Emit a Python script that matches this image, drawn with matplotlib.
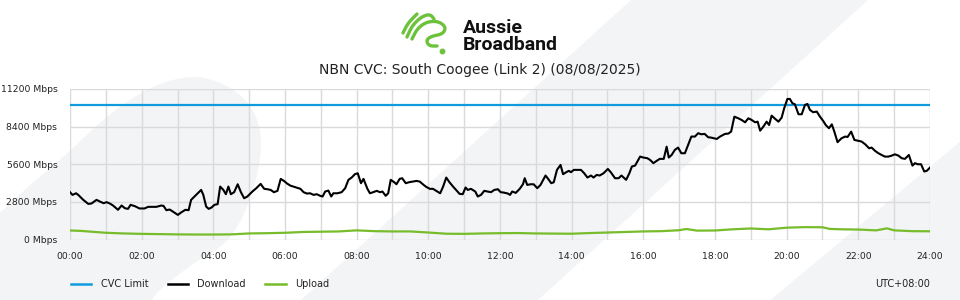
import numpy as np
import matplotlib
matplotlib.use('Agg')
import matplotlib.pyplot as plt
from matplotlib.lines import Line2D
from matplotlib.patches import Polygon

# Dati (ore, Mbps)
cvc_limit = 10000

download_hours = [
    0.00, 0.07, 0.17, 0.23, 0.37, 0.51, 0.60, 0.74, 0.83, 0.94, 1.02, 1.11, 1.20, 1.34, 1.44, 1.53,
    1.62, 1.69, 1.81, 1.94, 2.08, 2.18, 2.31, 2.41, 2.55, 2.61, 2.69, 2.78, 2.87, 3.01, 3.10, 3.22,
    3.31, 3.38, 3.52, 3.66, 3.72, 3.80, 3.87, 3.95, 4.03, 4.12, 4.19, 4.28, 4.35, 4.42, 4.49, 4.58,
    4.68, 4.77, 4.86, 4.95, 5.09, 5.20, 5.32, 5.42, 5.51, 5.60, 5.69, 5.79, 5.88, 5.97,
    6.06, 6.15, 6.29, 6.43, 6.52, 6.61, 6.70, 6.80, 6.89, 6.98, 7.05, 7.12, 7.21, 7.29, 7.35, 7.46,
    7.58, 7.68, 7.77, 7.86, 7.95, 8.03, 8.12, 8.19, 8.30, 8.37, 8.46, 8.56, 8.65, 8.72, 8.81, 8.88,
    8.95, 9.05, 9.11, 9.20, 9.27, 9.37, 9.46, 9.56, 9.67, 9.76, 9.87, 9.94, 10.04, 10.13, 10.22, 10.33,
    10.41, 10.50, 10.59, 10.69, 10.78, 10.87, 10.96, 11.04, 11.10, 11.19, 11.31, 11.38, 11.47, 11.56,
    11.66, 11.75, 11.84, 11.94,
    12.02, 12.11, 12.22, 12.28, 12.34, 12.44, 12.55, 12.64, 12.69, 12.76, 12.85, 12.94, 13.04, 13.13,
    13.27, 13.33, 13.43, 13.50, 13.59, 13.69, 13.76, 13.85, 13.92, 13.98, 14.06, 14.15, 14.26, 14.35,
    14.44, 14.54, 14.61, 14.70, 14.78, 14.89, 15.01, 15.09, 15.21, 15.31, 15.39, 15.52, 15.61, 15.68,
    15.77, 15.91, 16.00, 16.11, 16.19, 16.28, 16.37, 16.46, 16.57, 16.65, 16.71, 16.79, 16.88, 16.97,
    17.06, 17.16, 17.25, 17.34, 17.44, 17.53, 17.62, 17.71, 17.81, 17.90,
    18.05, 18.14, 18.28, 18.37, 18.45, 18.54, 18.65, 18.74, 18.84, 18.93, 19.02, 19.12, 19.19, 19.26,
    19.35, 19.44, 19.51, 19.58, 19.66, 19.77, 19.86, 19.93, 20.02, 20.09, 20.16, 20.23, 20.33, 20.42,
    20.51, 20.58, 20.65, 20.74, 20.84, 20.93, 21.02, 21.09, 21.18, 21.26, 21.33, 21.42, 21.53, 21.63,
    21.70, 21.80, 21.89, 22.00, 22.09, 22.19, 22.30, 22.37, 22.47, 22.56, 22.65, 22.74, 22.84, 22.93,
    23.02, 23.12, 23.21, 23.30, 23.41, 23.51, 23.58, 23.66, 23.75, 23.84, 23.91, 24.00,
]
download_mbps = [
    3520, 3320, 3440, 3320, 2950, 2650, 2680, 2950, 2830, 2700, 2780, 2680, 2530, 2210, 2530, 2330,
    2280, 2580, 2480, 2310, 2310, 2430, 2430, 2430, 2530, 2500, 2180, 2230, 2080, 1830, 2010, 2210,
    2180, 2950, 3320, 3690, 3320, 2450, 2280, 2380, 2580, 2630, 3940, 3690, 3370, 3940, 3370, 3520,
    4110, 3520, 3070, 3200, 3570, 3820, 4140, 3770, 3740, 3690, 3520, 3620, 4510, 4360,
    4160, 4010, 3890, 3770, 3520, 3420, 3440, 3320, 3370, 3250, 3200, 3570, 3640, 3200, 3440, 3440,
    3520, 3820, 4440, 4610, 4860, 4930, 4190, 4510, 3770, 3440, 3520, 3620, 3520, 3570, 3250, 3440,
    4440, 4260, 4110, 4510, 4560, 4190, 4260, 4310, 4360, 4310, 4060, 3920, 3770, 3770, 3620, 3440,
    3920, 4610, 4260, 3940, 3670, 3400, 3370, 3870, 3690, 3770, 3570, 3200, 3320, 3620,
    3570, 3520, 3690, 3740,
    3520, 3490, 3420, 3320, 3570, 3470, 3770, 4110, 4560, 4060, 4110, 4110, 3820, 4060,
    4760, 4560, 4190, 4260, 5180, 5550, 4860, 5010, 5110, 5010, 5180, 5180, 5180, 4930,
    4610, 4760, 4610, 4810, 4760, 4930, 5250, 5010, 4560, 4560, 4760, 4440, 4930, 5430,
    5500, 6170, 6100, 6050, 5920, 5680, 5850, 6000, 6000, 6910, 6100, 6290, 6670, 6840,
    6420, 6420, 7040, 7660, 7660, 7910, 7830, 7860, 7610, 7580,
    7480, 7660, 7860, 7880, 8030, 9140, 9020, 8900, 8720, 9020, 8900, 8720, 8770, 8100,
    8400, 8770, 8520, 9220, 9020, 8770, 9070, 9760, 10460, 10460, 10140, 10060, 9320, 9320,
    10010, 10090, 9640, 9470, 9520, 9140, 8820, 8520, 8280, 8570, 8030, 7240, 7530, 7660,
    7630, 8030, 7410, 7340, 7290, 7090, 6790, 6840, 6590, 6420, 6290, 6170, 6170, 6240,
    6340, 6240, 6050, 6000, 6290, 5500, 5680, 5600, 5600, 5060, 5110, 5350,
]

upload_hours = [
    0.0, 0.3, 0.5, 1.0, 1.5, 2.0, 2.5, 3.0, 3.5, 4.0, 4.5, 5.0, 5.5, 6.0, 6.5, 7.0, 7.5, 8.0, 8.5,
    9.0, 9.5, 10.0, 10.5, 11.0, 11.5, 12.0, 12.5, 13.0, 13.5, 14.0, 14.5, 15.0, 15.5, 16.0, 16.5,
    17.0, 17.2, 17.5, 18.0, 18.5, 19.0, 19.5, 20.0, 20.5, 21.0, 21.2, 21.5, 22.0, 22.5, 22.8, 23.0,
    23.5, 24.0,
]
upload_mbps = [
    670, 640, 600, 500, 450, 420, 400, 380, 370, 370, 380, 450, 470, 500, 560, 580, 600, 680, 620,
    600, 600, 520, 430, 420, 450, 470, 480, 450, 440, 430, 480, 520, 560, 600, 620,
    690, 780, 660, 670, 760, 820, 760, 880, 920, 910, 790, 760, 740, 680, 830, 680,
    620, 610,
]

y_ticks = [0, 2800, 5600, 8400, 11200]
x_ticks = list(range(0, 25, 2))

col_cvc = '#0f9bdc'
col_down = '#000000'
col_up = '#77bc2b'
col_bg = '#f3f4f6'
col_grid = '#dadada'


def chaikin(points, n=4, closed=False):
    # smussa un contorno disegnato a mano
    pts = np.array(points, dtype=float)
    for _ in range(n):
        if closed:
            p0, p1 = pts, np.roll(pts, -1, axis=0)
        else:
            p0, p1 = pts[:-1], pts[1:]
        q = 0.75 * p0 + 0.25 * p1
        r = 0.25 * p0 + 0.75 * p1
        new = np.empty((2 * len(q), 2))
        new[0::2] = q
        new[1::2] = r
        if not closed:
            new = np.vstack([pts[:1], new, pts[-1:]])
        pts = new
    return pts


fig = plt.figure(figsize=(9.6, 3.0), dpi=100, facecolor='white')

# Sfondo decorativo (coordinate in pixel)
bg = fig.add_axes([0, 0, 1, 1], zorder=0)
bg.set_xlim(0, 960)
bg.set_ylim(300, 0)
bg.axis('off')

leaf = [(-20, 300), (-20, 230), (0, 213), (30, 185), (66, 155), (100, 122), (130, 99), (160, 83),
        (190, 76), (212, 79), (235, 90), (252, 107), (261, 130), (261, 155), (255, 185), (243, 218),
        (225, 245), (195, 262), (165, 285), (150, 300), (150, 320), (-20, 320)]
bg.add_patch(Polygon(chaikin(leaf, 4, closed=True), closed=True, facecolor=col_bg, edgecolor='none'))
bg.add_patch(Polygon([(631, 0), (868, 0), (538, 300), (301, 300)], closed=True,
                     facecolor=col_bg, edgecolor='none'))
bg.add_patch(Polygon([(962, 140), (962, 302), (768, 302)], closed=True,
                     facecolor=col_bg, edgecolor='none'))

# Logo
logo_green = '#6cc23a'
strokes = [
    [(403, 33), (408, 23), (417, 14)],
    [(407, 37), (412, 26), (421, 17), (430, 14), (434, 19)],
    [(412, 39), (417, 29), (426, 22), (438, 21), (446, 27), (443, 34), (432, 36), (426, 40), (429, 46), (437, 46)],
]
for s in strokes:
    p = chaikin(s, 4)
    bg.plot(p[:, 0], p[:, 1], color=logo_green, lw=2.4, solid_capstyle='round')
bg.plot([442], [51], 'o', color=logo_green, ms=3.2)
bg.text(463, 33, 'Aussie', fontsize=14, fontweight='bold', family='Roboto', color='#111111', va='baseline')
bg.text(463, 50, 'Broadband', fontsize=14, fontweight='bold', family='Roboto', color='#111111', va='baseline')
bg.text(480, 70, 'NBN CVC: South Coogee (Link 2) (08/08/2025)', fontsize=10, color='#222222',
        ha='center', va='center')

# Grafico principale
ax = fig.add_axes([70 / 960, 1 - 239.5 / 300, 860 / 960, 150.5 / 300], zorder=1)
ax.set_facecolor('none')
ax.axhline(cvc_limit, color=col_cvc, lw=1.6, zorder=3)
ax.plot(download_hours, download_mbps, color=col_down, lw=1.5, zorder=4)
ax.plot(upload_hours, upload_mbps, color=col_up, lw=1.6, zorder=3)

ax.set_xlim(0, 24)
ax.set_ylim(0, 11200)
ax.set_xticks(x_ticks)
ax.set_xticklabels([f'{h:02d}:00' for h in x_ticks])
ax.set_xticks(range(1, 24, 2), minor=True)
ax.set_yticks(y_ticks)
ax.set_yticklabels([f'{v} Mbps' for v in y_ticks])
ax.grid(True, which='both', color=col_grid, lw=1.0, zorder=0)
ax.tick_params(axis='both', which='both', length=0, labelsize=6.7, colors='#222222')
ax.tick_params(axis='y', pad=9)
ax.tick_params(axis='x', pad=9)
for sp in ax.spines.values():
    sp.set_visible(False)

handles = [Line2D([], [], color=col_cvc, lw=1.8),
           Line2D([], [], color=col_down, lw=1.8),
           Line2D([], [], color=col_up, lw=1.8)]
fig.legend(handles, ['CVC Limit', 'Download', 'Upload'], loc='center left',
           bbox_to_anchor=(66 / 960, 1 - 284 / 300), ncol=3, frameon=False, fontsize=7,
           handlelength=2.1, handletextpad=0.95, columnspacing=2.0, borderpad=0,
           labelcolor='#222222')
fig.text(930 / 960, 1 - 284 / 300, 'UTC+08:00', fontsize=7, color='#222222', ha='right', va='center')

fig.savefig('out.png', dpi=100, facecolor='white')
